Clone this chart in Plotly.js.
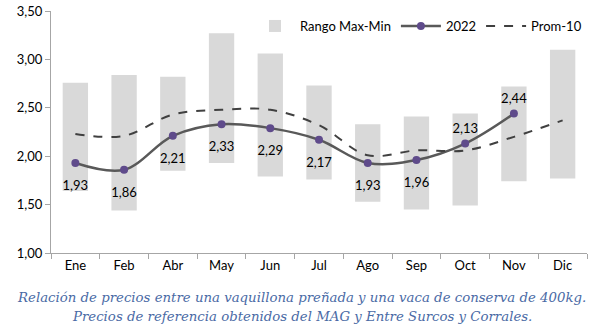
<!DOCTYPE html>
<html><head><meta charset="utf-8">
<script src="https://cdn.plot.ly/plotly-3.0.1.min.js"></script>
<style>html,body{margin:0;padding:0;background:#fff}#chart{width:605px;height:333px}</style>
</head><body><div id="chart"></div>
<script>
const months = ['Ene','Feb','Abr','May','Jun','Jul','Ago','Sep','Oct','Nov','Dic'];
const rangoMax = [2.76,2.84,2.82,3.27,3.06,2.73,2.33,2.41,2.44,2.72,3.10];
const rangoMin = [1.64,1.44,1.85,1.93,1.79,1.76,1.53,1.45,1.49,1.74,1.77];
const serie2022 = [1.93,1.86,2.21,2.33,2.29,2.17,1.93,1.96,2.13,2.44,null];
const prom10 = [2.23,2.21,2.43,2.48,2.48,2.32,2.01,2.06,2.06,2.20,2.37];
const labelPos = ['bottom center','bottom center','bottom center','bottom center','bottom center','bottom center','bottom center','bottom center','top center','top center','top center'];
const captionLines = ['Relación de precios entre una vaquillona preñada y una vaca de conserva de 400kg.','Precios de referencia obtenidos del MAG y Entre Surcos y Corrales.'];

const rangeHeights = rangoMax.map((v,i)=>v-rangoMin[i]);
const labelGap = labelPos.map(p => p.startsWith('bottom') ? 26 : 10);
const font = {family:'Lato, "Open Sans", sans-serif', size:13, color:'#000'};

const traces = [
  {type:'bar', name:'Rango Max-Min', x:months, y:rangeHeights, base:rangoMin,
   marker:{color:'#d9d9d9'}, hoverinfo:'skip'},
  {type:'scatter', mode:'lines+markers', name:'2022', x:months, y:serie2022,
   line:{color:'#595959', width:2.5, shape:'spline', smoothing:1},
   marker:{color:'#5f4b8b', size:8}},
  {type:'scatter', mode:'lines', name:'Prom-10', x:months, y:prom10,
   line:{color:'#404040', width:2, dash:'dash', shape:'spline', smoothing:1}},
  {type:'scatter', mode:'markers+text', showlegend:false, x:months, y:serie2022,
   marker:{color:'#ffffff', opacity:0, size:labelGap, line:{width:0}},
   texttemplate:'%{y:.2f}', textposition:labelPos,
   textfont:{family:font.family, size:13, color:'#000'}, cliponaxis:false, hoverinfo:'skip'}
];

const layout = {
  width:605, height:333,
  margin:{l:51, r:18, t:11, b:80},
  paper_bgcolor:'#fff', plot_bgcolor:'#fff',
  separators:',.',
  font:font,
  bargap:0.48,
  showlegend:true,
  legend:{orientation:'h', x:1, xanchor:'right', y:1.0, yanchor:'top',
    font:{family:font.family, size:13, color:'#000'}, bgcolor:'rgba(255,255,255,0)',
    traceorder:'normal', itemwidth:40},
  xaxis:{type:'category', showline:true, linecolor:'#a6a6a6', linewidth:1,
    ticks:'outside', tickson:'boundaries', ticklen:5, tickcolor:'#a6a6a6',
    showgrid:false, zeroline:false, tickfont:{family:font.family, size:13, color:'#000'},
    range:[-0.5,10.5]},
  yaxis:{range:[1,3.5], dtick:0.5, tickformat:'.2f', showline:true, linecolor:'#a6a6a6',
    linewidth:1, ticks:'outside', ticklen:5, tickcolor:'#a6a6a6', showgrid:false,
    zeroline:false, tickfont:{family:font.family, size:13, color:'#000'}},
  annotations:[
    {xref:'paper', yref:'paper', x:0.468, y:-0.182, xanchor:'center', yanchor:'middle', showarrow:false,
     text:'<i>'+captionLines[0]+'</i>', font:{family:'"DejaVu Serif", serif', size:13.3, color:'#4a6aa5'}},
    {xref:'paper', yref:'paper', x:0.468, y:-0.262, xanchor:'center', yanchor:'middle', showarrow:false,
     text:'<i>'+captionLines[1]+'</i>', font:{family:'"DejaVu Serif", serif', size:13.3, color:'#4a6aa5'}}
  ]
};
Plotly.newPlot('chart', traces, layout, {displayModeBar:false, staticPlot:true});
</script></body></html>
